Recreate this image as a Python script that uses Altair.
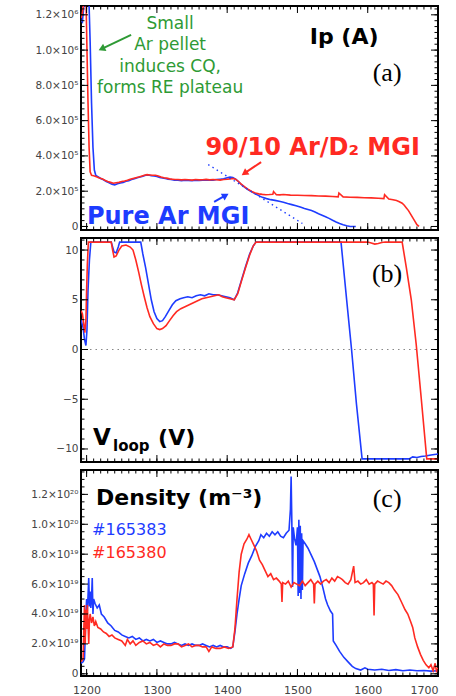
import altair as alt
import pandas as pd

# ---------------- data ----------------
SHOTS = ["#165383", "#165380"]          # blue = Pure Ar MGI, red = 90/10 Ar/D2 MGI

# Plasma current, MA  (time ms, value)
IP_BLUE = [(1192,1.17),(1194,1.16),(1196,1.25),(1198,1.32),(1203,1.32),(1205,1.05),(1207,0.70),(1209,0.45),
           (1211,0.32),(1213,0.29),(1216,0.283),(1220,0.272),(1224,0.265),(1228,0.255),(1232,0.248),(1236,0.24),
           (1240,0.236),(1244,0.242),(1248,0.246),(1252,0.25),(1256,0.256),(1260,0.26),(1264,0.266),(1268,0.27),
           (1272,0.276),(1276,0.28),(1280,0.285),(1284,0.29),(1288,0.292),(1292,0.288),(1296,0.287),(1300,0.284),
           (1304,0.278),(1308,0.275),(1312,0.272),(1316,0.268),(1320,0.266),(1325,0.263),(1330,0.262),(1335,0.26),
           (1340,0.262),(1345,0.261),(1350,0.26),(1355,0.262),(1360,0.261),(1365,0.263),(1370,0.262),(1375,0.264),
           (1380,0.263),(1385,0.266),(1390,0.268),(1395,0.27),(1400,0.276),(1404,0.28),(1408,0.278),(1412,0.268),
           (1416,0.255),(1420,0.238),(1425,0.222),(1430,0.208),(1435,0.196),(1440,0.185),(1445,0.175),(1450,0.165),
           (1456,0.158),(1462,0.152),(1468,0.148),(1474,0.143),(1480,0.137),(1486,0.13),(1492,0.124),(1498,0.118),
           (1504,0.11),(1510,0.102),(1515,0.096),(1520,0.09),(1525,0.082),(1530,0.072),(1535,0.064),(1540,0.055),
           (1545,0.046),(1550,0.035),(1555,0.025),(1560,0.017),(1565,0.01),(1570,0.004),(1575,0.0),(1583,0.0)]
IP_RED = [(1192,1.18),(1194,1.21),(1196,1.28),(1197,1.32),(1199,1.32),(1200.5,1.00),(1202,0.70),(1203.5,0.45),
          (1205,0.31),(1207,0.29),(1210,0.288),(1214,0.282),(1218,0.275),(1222,0.27),(1226,0.262),(1230,0.255),
          (1234,0.25),(1238,0.245),(1242,0.248),(1246,0.25),(1250,0.255),(1254,0.258),(1258,0.262),(1262,0.268),
          (1266,0.272),(1270,0.276),(1274,0.28),(1278,0.285),(1282,0.29),(1286,0.294),(1290,0.292),(1294,0.29),
          (1298,0.29),(1302,0.286),(1306,0.28),(1310,0.276),(1314,0.274),(1318,0.27),(1322,0.268),(1326,0.266),
          (1330,0.266),(1335,0.264),(1340,0.266),(1345,0.265),(1350,0.263),(1355,0.266),(1360,0.264),(1365,0.265),
          (1370,0.267),(1375,0.264),(1380,0.266),(1385,0.265),(1390,0.263),(1395,0.266),(1400,0.268),(1404,0.27),
          (1408,0.272),(1412,0.268),(1416,0.255),(1420,0.24),(1425,0.225),(1430,0.21),(1435,0.198),(1440,0.19),
          (1445,0.185),(1450,0.182),(1455,0.18),(1460,0.181),(1465,0.183),(1466,0.198),(1470,0.18),(1475,0.179),
          (1480,0.181),(1490,0.178),(1500,0.177),(1510,0.176),(1520,0.175),(1530,0.173),(1540,0.172),(1550,0.17),
          (1558,0.168),(1559,0.19),(1565,0.168),(1575,0.166),(1585,0.165),(1595,0.163),(1605,0.162),(1615,0.16),
          (1623,0.158),(1624,0.18),(1630,0.156),(1636,0.152),(1641,0.147),(1645,0.14),(1649,0.132),(1652,0.12),
          (1655,0.105),(1658,0.09),(1661,0.07),(1664,0.05),(1667,0.03),(1670,0.01),(1673,0.0)]
IP_FIT = [(1373,0.351),(1507,0.017)]       # dotted extrapolation of the blue decay

# Loop voltage, V
VLOOP_BLUE = [(1192,3.0),(1195,2.2),(1197,1.0),(1199,0.4),(1200.5,2.0),(1202,6.0),(1204,9.0),(1206,10.8),
              (1235,10.8),(1237,10.3),(1239,9.8),(1242,9.7),(1245,10.3),(1247,10.8),(1277,10.8),(1280,9.6),
              (1284,8.2),(1288,6.6),(1292,5.0),(1296,3.8),(1300,3.1),(1304,2.8),(1308,2.9),(1312,3.3),(1317,3.9),
              (1322,4.5),(1327,4.9),(1333,5.1),(1338,5.2),(1344,5.3),(1350,5.2),(1356,5.4),(1362,5.5),(1368,5.4),
              (1374,5.6),(1380,5.5),(1386,5.5),(1392,5.4),(1398,5.3),(1404,5.2),(1410,5.0),(1415,5.7),(1420,6.9),
              (1426,8.3),(1432,9.6),(1437,10.4),(1441,10.8),(1562,10.8),(1570,5.0),(1577,0.0),(1584,-5.5),
              (1592,-11.0),(1659,-11.0),(1664,-10.8),(1670,-10.85),(1676,-10.75),(1682,-10.7),(1690,-10.6),
              (1700,-10.5)]
VLOOP_RED = [(1192,3.9),(1194,3.6),(1196,2.5),(1197.5,1.7),(1199,3.0),(1200,6.0),(1201,8.5),(1202.5,10.8),
             (1235,10.8),(1237,10.0),(1239,9.3),(1242,9.4),(1246,10.0),(1250,10.4),(1256,10.5),(1262,10.3),
             (1266,10.0),(1270,9.0),(1274,7.8),(1278,6.5),(1282,5.3),(1286,4.2),(1290,3.3),(1295,2.6),(1300,2.1),
             (1304,2.0),(1308,2.1),(1313,2.4),(1318,2.9),(1323,3.4),(1328,3.8),(1334,4.1),(1340,4.3),(1346,4.5),
             (1352,4.7),(1358,4.9),(1364,5.1),(1370,5.2),(1376,5.3),(1382,5.4),(1388,5.5),(1393,5.3),(1398,5.2),
             (1404,5.1),(1410,5.0),(1415,5.6),(1420,6.8),(1426,8.2),(1432,9.5),(1437,10.4),(1441,10.8),
             (1600,10.8),(1605,10.7),(1610,10.6),(1615,10.65),(1620,10.75),(1625,10.8),(1649,10.8),(1655,8.2),
             (1662,5.0),(1669,0.5),(1676,-4.8),(1684,-11.0),(1700,-11.0)]

# Density, 1e19 m^-3
NE_BLUE = [(1192,0.7),(1195,0.8),(1197,1.0),(1198,2.5),(1199,4.0),(1200,5.0),(1201,4.2),(1202,5.2),(1203,6.4),
           (1204,4.5),(1205,5.5),(1206,4.4),(1207,5.0),(1208,6.4),(1209,4.0),(1210,5.0),(1212,4.7),(1215,4.4),
           (1218,4.6),(1221,4.0),(1225,3.8),(1230,3.4),(1235,3.2),(1240,2.9),(1245,2.8),(1250,2.6),(1255,2.5),
           (1260,2.4),(1265,2.5),(1270,2.3),(1275,2.4),(1280,2.2),(1285,2.3),(1290,2.2),(1295,2.3),(1300,2.1),
           (1305,2.2),(1310,2.1),(1315,2.0),(1320,2.0),(1325,2.1),(1330,2.0),(1335,1.9),(1340,2.0),(1345,1.9),
           (1350,2.0),(1355,1.9),(1360,1.9),(1365,2.0),(1370,1.9),(1375,1.8),(1380,1.9),(1385,1.8),(1390,1.9),
           (1395,1.8),(1400,1.8),(1405,1.7),(1408,1.8),(1411,2.8),(1414,4.0),(1417,5.0),(1420,5.9),(1425,6.7),
           (1430,7.4),(1435,7.9),(1440,8.5),(1445,8.9),(1448,9.3),(1452,9.1),(1456,9.4),(1460,9.2),(1464,9.5),
           (1468,9.3),(1472,9.5),(1476,9.2),(1480,9.1),(1484,9.4),(1488,9.6),(1490,11.0),(1491,13.2),(1492,10.2),
           (1493,5.8),(1494,9.8),(1496,9.0),(1498,8.6),(1500,9.8),(1501,5.2),(1502,10.3),(1503,5.4),(1504,9.9),
           (1505,5.0),(1506,9.4),(1507,5.6),(1508,8.9),(1511,8.7),(1515,8.4),(1520,7.9),(1524,7.5),(1528,7.0),
           (1532,6.5),(1536,5.8),(1540,5.0),(1543,4.6),(1547,4.2),(1550,4.0),(1551,2.2),(1555,1.9),(1560,1.5),
           (1566,1.1),(1572,0.8),(1578,0.5),(1583,0.35),(1590,0.25),(1596,0.4),(1600,0.3),(1610,0.25),(1620,0.3),
           (1630,0.22),(1640,0.28),(1650,0.2),(1660,0.25),(1670,0.2),(1680,0.22),(1690,0.18),(1700,0.2)]
NE_RED = [(1192,0.8),(1195,1.0),(1196,3.0),(1197,4.6),(1198,2.0),(1199,4.3),(1200,3.0),(1201,4.6),(1202,3.4),
          (1203,2.0),(1204,3.6),(1205,4.0),(1207,3.4),(1209,3.8),(1211,3.2),(1213,3.5),(1216,3.1),(1220,3.0),
          (1224,2.8),(1228,2.7),(1232,2.5),(1236,2.6),(1240,2.4),(1245,2.3),(1250,2.2),(1255,1.9),(1258,2.3),
          (1262,2.0),(1266,2.2),(1270,1.9),(1275,2.1),(1280,2.2),(1285,2.0),(1290,2.1),(1295,1.9),(1300,2.0),
          (1305,1.8),(1310,2.0),(1315,1.9),(1320,1.9),(1325,2.0),(1330,2.0),(1335,1.8),(1340,1.9),(1345,2.0),
          (1350,1.8),(1355,1.9),(1360,1.9),(1365,1.8),(1370,1.8),(1374,1.5),(1378,1.8),(1384,1.7),(1390,1.7),
          (1396,1.8),(1402,1.7),(1408,1.8),(1411,3.0),(1414,5.0),(1417,6.8),(1420,8.0),(1424,8.7),(1428,9.0),
          (1431,9.3),(1434,9.0),(1438,8.6),(1442,8.2),(1446,7.6),(1450,7.3),(1454,6.9),(1458,6.5),(1462,6.7),
          (1466,6.3),(1470,6.4),(1474,6.2),(1477,6.0),(1478,4.8),(1479,6.1),(1483,6.0),(1487,6.2),(1491,5.8),
          (1495,6.1),(1499,6.0),(1503,5.9),(1507,6.2),(1511,5.9),(1515,6.1),(1519,6.3),(1523,6.0),(1524,4.7),
          (1525,6.0),(1529,6.2),(1533,6.0),(1537,6.2),(1541,6.3),(1545,6.1),(1549,6.4),(1553,6.2),(1557,6.5),
          (1561,6.4),(1564,6.3),(1568,6.1),(1572,6.0),(1576,6.3),(1580,7.2),(1582,6.1),(1586,6.2),(1590,6.0),
          (1594,6.1),(1598,6.3),(1602,6.0),(1606,6.1),(1608,6.0),(1609,3.9),(1610,6.0),(1614,6.2),(1618,6.1),
          (1622,6.0),(1626,6.2),(1630,6.1),(1634,5.9),(1638,5.6),(1643,5.3),(1648,4.8),(1653,4.3),(1657,4.0),
          (1661,3.5),(1664,3.1),(1667,2.4),(1671,1.8),(1675,1.3),(1679,0.9),(1683,0.6),(1687,0.4),(1690,0.6),
          (1693,0.2),(1696,0.7),(1698,0.1),(1700,0.4)]

X_TICK_LABELS = [1200, 1300, 1400, 1500, 1600, 1700]
IP_TICKS = [0, 0.2, 0.4, 0.6, 0.8, 1.0, 1.2]
IP_TICK_LABELS = ["0", "2.0×10⁵", "4.0×10⁵", "6.0×10⁵", "8.0×10⁵", "1.0×10⁶", "1.2×10⁶"]
V_TICKS = [-10, -5, 0, 5, 10]
NE_TICKS = [0, 2, 4, 6, 8, 10, 12]
NE_TICK_LABELS = ["0", "2.0×10¹⁹", "4.0×10¹⁹", "6.0×10¹⁹", "8.0×10¹⁹", "1.0×10²⁰", "1.2×10²⁰"]

# ---------------- style ----------------
BLUE = "#1e3cff"
RED = "#ff2a22"
GREEN = "#2e9a35"
FONT = "DejaVu Sans"
SERIF = "Liberation Serif"
W = 357
X_DOM = [1192, 1700]
X_MINOR = list(range(1200, 1701, 10))
MAJOR_LEN, MINOR_LEN = 7, 3.5          # tick lengths in pixels
ONE = alt.Data(values=[{}])


def table(blue, red):
    rows = [{"t": t, "v": v, "shot": SHOTS[0]} for t, v in blue]
    rows += [{"t": t, "v": v, "shot": SHOTS[1]} for t, v in red]
    return pd.DataFrame(rows)


def label_expr(vals, labels):
    expr = "''"
    for v, lab in reversed(list(zip(vals, labels))):
        expr = f"abs(datum.value - ({v})) < 1e-6 ? '{lab}' : {expr}"
    return expr


def text(t, v, s, color="black", size=22, weight="bold", font=FONT, align="center",
         baseline="middle", dx=0, dy=0, **kw):
    return alt.Chart(ONE).mark_text(color=color, fontSize=size, fontWeight=weight, font=font,
                                    align=align, baseline=baseline, dx=dx, dy=dy, **kw).encode(
        x=alt.XDatum(t, type="quantitative", axis=None),
        y=alt.YDatum(v, type="quantitative", axis=None),
        text=alt.value(s))


def arrow(t0, v0, t1, v1, angle, color):
    line = alt.Chart(ONE).mark_rule(color=color, strokeWidth=2).encode(
        x=alt.XDatum(t0, type="quantitative", axis=None), x2=alt.X2Datum(t1),
        y=alt.YDatum(v0, type="quantitative", axis=None), y2=alt.Y2Datum(v1))
    head = alt.Chart(ONE).mark_point(shape="triangle", filled=True, size=60, angle=angle,
                                     color=color, opacity=1).encode(
        x=alt.XDatum(t1, type="quantitative", axis=None),
        y=alt.YDatum(v1, type="quantitative", axis=None))
    return [line, head]


def edge_ticks(ydom, H, y_major, y_minor):
    """Inward IDL-style ticks on all four edges (rules from the frame towards the inside)."""
    layers = []
    xspan = X_DOM[1] - X_DOM[0]
    yspan = ydom[1] - ydom[0]
    for length, xv, yv in ((MAJOR_LEN, X_TICK_LABELS, y_major), (MINOR_LEN, X_MINOR, y_minor)):
        dy = length * yspan / H
        dx = length * xspan / W
        xdata = alt.Data(values=[{"tx": v} for v in xv])
        ydata = alt.Data(values=[{"ty": v} for v in yv])
        for edge, inner in ((ydom[0], ydom[0] + dy), (ydom[1], ydom[1] - dy)):
            layers.append(alt.Chart(xdata).mark_rule(color="black", strokeWidth=1).encode(
                x=alt.X("tx:Q", axis=None),
                y=alt.YDatum(edge, type="quantitative", axis=None), y2=alt.Y2Datum(inner)))
        for edge, inner in ((X_DOM[0], X_DOM[0] + dx), (X_DOM[1], X_DOM[1] - dx)):
            layers.append(alt.Chart(ydata).mark_rule(color="black", strokeWidth=1).encode(
                y=alt.Y("ty:Q", axis=None),
                x=alt.XDatum(edge, type="quantitative", axis=None), x2=alt.X2Datum(inner)))
    return layers


def panel(df, H, ydom, yaxis_kw, y_major, y_minor, x_labels, extra):
    xs = alt.Scale(domain=X_DOM, nice=False, zero=False)
    ys = alt.Scale(domain=ydom, nice=False, zero=False)
    xaxis = None
    if x_labels:
        xaxis = alt.Axis(values=X_TICK_LABELS, format="d", ticks=False, domain=False, grid=False,
                         title=None, labelFont=FONT, labelFontSize=11, labelColor="#444",
                         labelPadding=8, labelOverlap=False)
    yaxis = alt.Axis(ticks=False, domain=False, grid=False, title=None, labelFont=FONT,
                     labelFontSize=10.5, labelColor="#444", labelPadding=3, labelOverlap=False,
                     minExtent=75, maxExtent=75, **yaxis_kw)
    lines = alt.Chart(df).mark_line(strokeWidth=1.6, clip=True).encode(
        x=alt.X("t:Q", scale=xs, axis=xaxis),
        y=alt.Y("v:Q", scale=ys, axis=yaxis),
        color=alt.Color("shot:N", scale=alt.Scale(domain=SHOTS, range=[BLUE, RED]), legend=None),
    )
    return alt.layer(lines, *extra, *edge_ticks(ydom, H, y_major, y_minor)).resolve_axis(
        x="independent", y="independent").properties(width=W, height=H)


# ---------------- panel (a): Ip ----------------
fit = alt.Chart(pd.DataFrame(IP_FIT, columns=["t", "v"])).mark_line(
    strokeDash=[1.5, 3.5], color=BLUE, strokeWidth=1.4, clip=True).encode(
    x=alt.X("t:Q", axis=None), y=alt.Y("v:Q", axis=None))
a_extra = [
    fit,
    text(1566.4, 1.074, "Ip (A)", size=22),
    text(1627.6, 0.870, "(a)", size=26, weight="normal", font=SERIF),
    text(1318.8, 1.193, ["Small", "Ar pellet", "induces CQ,", "forms RE plateau"], color=GREEN,
         size=17, weight="normal", baseline="top", lineHeight=21.3),
    text(1521.6, 0.445, "90/10 Ar/D₂ MGI", color=RED, size=24),
    text(1316.0, 0.054, "Pure Ar MGI", color=BLUE, size=24),
    *arrow(1263.3, 1.086, 1222.9, 1.010, 244.9, GREEN),
    *arrow(1448.3, 0.365, 1425.9, 0.305, 235.6, RED),
    *arrow(1381.4, 0.139, 1396.4, 0.173, 60.3, BLUE),
]
panel_a = panel(
    table(IP_BLUE, IP_RED), 224, [-0.02, 1.25],
    dict(values=IP_TICKS, labelExpr=label_expr(IP_TICKS, IP_TICK_LABELS)),
    IP_TICKS, [round(k * 0.2 / 6, 5) for k in range(0, 38)],
    False, a_extra)

# ---------------- panel (b): Vloop ----------------
zero = alt.Chart(ONE).mark_rule(strokeDash=[1.5, 4], color="#888", strokeWidth=1.2).encode(
    y=alt.YDatum(0, type="quantitative", axis=None))
b_extra = [
    zero,
    text(1627.6, 7.58, "(b)", size=26, weight="normal", font=SERIF),
    text(1209.2, -9.59, "V", size=23, align="left", baseline="alphabetic"),
    text(1209.2, -9.59, "loop", size=15, align="left", baseline="alphabetic", dx=20, dy=6),
    text(1209.2, -9.59, "(V)", size=22, align="left", baseline="alphabetic", dx=65),
]
panel_b = panel(
    table(VLOOP_BLUE, VLOOP_RED), 224, [-11.31, 11.21],
    dict(values=V_TICKS),
    V_TICKS, list(range(-11, 12)),
    False, b_extra)

# ---------------- panel (c): density ----------------
c_extra = [
    text(1213.5, 11.76, "Density (m⁻³)", size=22, align="left"),
    text(1207.8, 9.59, SHOTS[0], color=BLUE, size=16, weight="normal", align="left"),
    text(1207.8, 8.11, SHOTS[1], color=RED, size=16, weight="normal", align="left"),
    text(1627.6, 11.69, "(c)", size=26, weight="normal", font=SERIF),
]
panel_c = panel(
    table(NE_BLUE, NE_RED), 206, [-0.147, 13.63],
    dict(values=NE_TICKS, labelExpr=label_expr(NE_TICKS, NE_TICK_LABELS)),
    NE_TICKS, [k * 0.5 for k in range(0, 28)],
    True, c_extra)

chart = alt.vconcat(panel_a, panel_b, panel_c, spacing=8, bounds="flush").properties(
    padding={"left": 5, "top": 4, "right": 5, "bottom": 0}
).configure_view(stroke="black", strokeWidth=2)

chart.save("out.html", embed_options={"renderer": "svg", "actions": False})
